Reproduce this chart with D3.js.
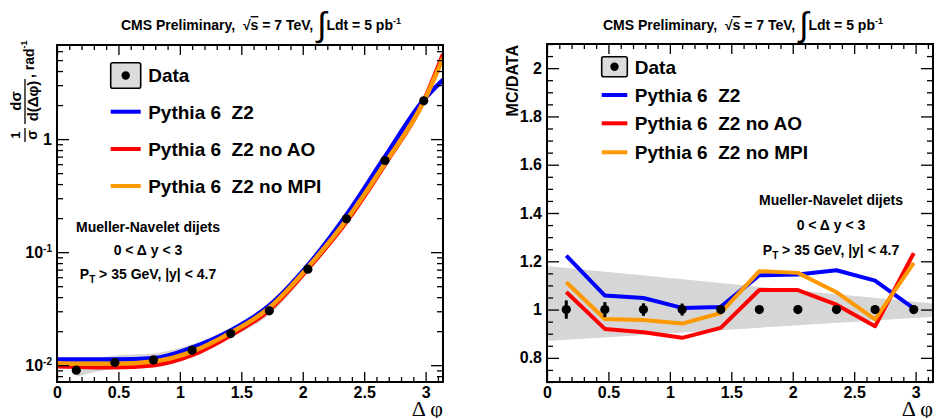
<!DOCTYPE html>
<html>
<head>
<meta charset="utf-8">
<script src="https://cdn.jsdelivr.net/npm/d3@7"></script>
<style>
  body { margin: 0; background: #fff; }
  svg text { font-family: "Liberation Sans", Arial, sans-serif; font-weight: bold; fill: #000; white-space: pre; }
</style>
</head>
<body>
<svg id="chart" width="936" height="418"></svg>
<script>
// bin centres of delta phi (10 bins from 0 to pi)
var binX = [0.157, 0.471, 0.785, 1.100, 1.414, 1.728, 2.042, 2.356, 2.670, 2.985];
// normalised cross section, data
var dataVal = [0.00903, 0.01054, 0.01114, 0.01358, 0.01905, 0.03025, 0.0707, 0.197, 0.647, 2.18];
var dataBandHigh = [0.01058, 0.01219, 0.01271, 0.01529, 0.02115, 0.0331, 0.0763, 0.2096, 0.678, 2.252];
var dataBandLow = [0.00790, 0.00933, 0.00997, 0.01229, 0.01743, 0.02798, 0.0661, 0.1862, 0.6179, 2.104];

// smooth MC curves, left panel
var fitX = [0, 0.157, 0.471, 0.785, 1.100, 1.414, 1.728, 2.042, 2.356, 2.670, 2.985, 3.1416];
var fitZ2 = [0.0112, 0.0112, 0.0112, 0.0115, 0.0143, 0.0203, 0.0337, 0.0765, 0.214, 0.70, 2.23, 3.35];
var fitNoAO = [0.0098, 0.0097, 0.0096, 0.0100, 0.0123, 0.0184, 0.0308, 0.0712, 0.186, 0.60, 2.18, 5.6];
var fitNoMPI = [0.0104, 0.0103, 0.0103, 0.0108, 0.0132, 0.0194, 0.0322, 0.0735, 0.193, 0.613, 2.15, 5.2];

// MC / DATA, right panel
var ratioData = [1, 1, 1, 1, 1, 1, 1, 1, 1, 1];
var ratioErr = [0.038, 0.031, 0.026, 0.025, 0.015, 0.01, 0.008, 0.008, 0.008, 0.008];
var ratioZ2 = [1.223, 1.058, 1.048, 1.007, 1.011, 1.142, 1.145, 1.163, 1.12, 1.005];
var ratioNoAO = [1.073, 0.92, 0.906, 0.883, 0.924, 1.081, 1.081, 1.02, 0.931, 1.234];
var ratioNoMPI = [1.113, 0.961, 0.957, 0.942, 0.986, 1.159, 1.152, 1.072, 0.959, 1.193];
var ratioBandX = [0, 3.1416];
var ratioBandHigh = [1.18, 1.025];
var ratioBandLow = [0.87, 0.97];

var seriesNames = ["Pythia 6  Z2", "Pythia 6  Z2 no AO", "Pythia 6  Z2 no MPI"];
var seriesColors = ["#0000ff", "#ff0000", "#ff9900"];
var xTickValues = [0, 0.5, 1, 1.5, 2, 2.5, 3];
var logTickValues = [0.01, 0.1, 1];
var logTickExp = ["-2", "-1", ""];
var ratioTickValues = [0.8, 1, 1.2, 1.4, 1.6, 1.8, 2];

var svg = d3.select("#chart");

function styleAxis(g) {
    g.select(".domain").remove();
    g.selectAll("line").attr("stroke", "#000").attr("stroke-width", 1.3);
    g.selectAll("text").attr("font-size", "16px").attr("font-family", "Liberation Sans, Arial, sans-serif")
        .attr("font-weight", "bold").attr("fill", "#000");
}

function frameAxes(x, y, yMinor, box, yFormat) {
    var xMinor = d3.range(0, 3.15, 0.1).filter(function(v) {
        return Math.abs(v * 2 - Math.round(v * 2)) > 0.01;
    });
    // bottom
    svg.append("g").attr("transform", "translate(0," + box.bottom + ")")
        .call(d3.axisBottom(x).tickValues(xTickValues).tickSize(-10).tickPadding(5).tickFormat(d3.format("")))
        .call(styleAxis);
    svg.append("g").attr("transform", "translate(0," + box.bottom + ")")
        .call(d3.axisBottom(x).tickValues(xMinor).tickSize(-5).tickFormat(""))
        .call(styleAxis);
    // top
    svg.append("g").attr("transform", "translate(0," + box.top + ")")
        .call(d3.axisTop(x).tickValues(xTickValues).tickSize(-10).tickFormat(""))
        .call(styleAxis);
    svg.append("g").attr("transform", "translate(0," + box.top + ")")
        .call(d3.axisTop(x).tickValues(xMinor).tickSize(-5).tickFormat(""))
        .call(styleAxis);
    // left
    var yl = svg.append("g").attr("transform", "translate(" + box.left + ",0)")
        .call(d3.axisLeft(y).tickValues(y.majors).tickSize(-12).tickPadding(5).tickFormat(yFormat))
        .call(styleAxis);
    svg.append("g").attr("transform", "translate(" + box.left + ",0)")
        .call(d3.axisLeft(y).tickValues(yMinor).tickSize(-6).tickFormat(""))
        .call(styleAxis);
    // right
    svg.append("g").attr("transform", "translate(" + box.right + ",0)")
        .call(d3.axisRight(y).tickValues(y.majors).tickSize(-12).tickFormat(""))
        .call(styleAxis);
    svg.append("g").attr("transform", "translate(" + box.right + ",0)")
        .call(d3.axisRight(y).tickValues(yMinor).tickSize(-6).tickFormat(""))
        .call(styleAxis);
    svg.append("rect")
        .attr("x", box.left).attr("y", box.top)
        .attr("width", box.right - box.left).attr("height", box.bottom - box.top)
        .attr("fill", "none").attr("stroke", "#000").attr("stroke-width", 2);
    // delta phi title
    svg.append("text").attr("x", box.right).attr("y", 416).attr("text-anchor", "end")
        .style("font-family", "Liberation Serif, Times, serif").style("font-weight", "normal")
        .style("font-size", "22px")
        .text("\u0394 \u03c6");
    return yl;
}

function title(cx) {
    var t = svg.append("text").attr("x", cx).attr("y", 30).attr("text-anchor", "middle")
        .style("font-size", "14px");
    t.append("tspan").text("CMS Preliminary,  \u221a");
    t.append("tspan").text("s").style("text-decoration", "overline");
    t.append("tspan").text(" = 7 TeV, ");
    t.append("tspan").text("\u222b").style("font-size", "34px").style("font-weight", "normal")
        .attr("dy", 6);
    t.append("tspan").text("Ldt = 5 pb").attr("dy", -6);
    t.append("tspan").text("-1").style("font-size", "9px").attr("dy", -6);
}

function legend(x0, yRows, boxW, boxH) {
    var g = svg.append("g");
    g.append("rect").attr("x", x0).attr("y", yRows[0] - boxH / 2).attr("width", boxW).attr("height", boxH)
        .attr("rx", 2).attr("fill", "#dcdcdc").attr("stroke", "#000").attr("stroke-width", 1.6);
    g.append("circle").attr("cx", x0 + boxW / 2).attr("cy", yRows[0]).attr("r", 4.2).attr("fill", "#000");
    g.append("text").attr("x", x0 + boxW + 7.5).attr("y", yRows[0]).attr("dy", "0.36em")
        .style("font-size", "19px").text("Data");
    seriesNames.forEach(function(name, i) {
        g.append("line").attr("x1", x0).attr("x2", x0 + boxW)
            .attr("y1", yRows[i + 1]).attr("y2", yRows[i + 1])
            .attr("stroke", seriesColors[i]).attr("stroke-width", 4);
        g.append("text").attr("x", x0 + boxW + 7.5).attr("y", yRows[i + 1]).attr("dy", "0.36em")
            .style("font-size", "19px").text(name);
    });
}

function cuts(cx, ys) {
    svg.append("text").attr("x", cx).attr("y", ys[0]).attr("dy", "0.36em").attr("text-anchor", "middle")
        .style("font-size", "14px").text("Mueller-Navelet dijets");
    svg.append("text").attr("x", cx).attr("y", ys[1]).attr("dy", "0.36em").attr("text-anchor", "middle")
        .style("font-size", "14px").text("0 < \u0394 y < 3");
    var t = svg.append("text").attr("x", cx).attr("y", ys[2]).attr("dy", "0.36em").attr("text-anchor", "middle")
        .style("font-size", "14px");
    t.append("tspan").text("P");
    t.append("tspan").text("T").style("font-size", "10px").attr("dy", 4);
    t.append("tspan").text(" > 35 GeV, |y| < 4.7").attr("dy", -4);
}

// ---------------- left panel ----------------
var boxL = {left: 57, right: 443, top: 45, bottom: 382};
var xL = d3.scaleLinear().domain([0, Math.PI]).range([boxL.left, boxL.right]);
var yL = d3.scaleLog().domain([0.0071, 6.8]).range([boxL.bottom, boxL.top]);
yL.majors = logTickValues;
var yLMinor = yL.ticks().filter(function(v) { return logTickValues.indexOf(v) < 0; });

svg.append("clipPath").attr("id", "clipL").append("rect")
    .attr("x", boxL.left).attr("y", boxL.top).attr("width", boxL.right - boxL.left).attr("height", boxL.bottom - boxL.top);
var plotL = svg.append("g").attr("clip-path", "url(#clipL)");

plotL.append("path")
    .datum(binX.map(function(x, i) { return [x, dataBandLow[i], dataBandHigh[i]]; }))
    .attr("fill", "#d6d6d6")
    .attr("d", d3.area().curve(d3.curveMonotoneX)
        .x(function(d) { return xL(d[0]); })
        .y0(function(d) { return yL(d[1]); })
        .y1(function(d) { return yL(d[2]); }));

var fits = [fitZ2, fitNoAO, fitNoMPI];
var fitLine = d3.line().curve(d3.curveMonotoneX)
    .x(function(d) { return xL(d[0]); })
    .y(function(d) { return yL(d[1]); });
fits.forEach(function(f, i) {
    plotL.append("path")
        .datum(fitX.map(function(x, j) { return [x, f[j]]; }))
        .attr("fill", "none").attr("stroke", seriesColors[i]).attr("stroke-width", 4.5)
        .attr("d", fitLine);
});
plotL.selectAll(".dotL").data(dataVal).enter().append("circle")
    .attr("cx", function(d, i) { return xL(binX[i]); })
    .attr("cy", function(d) { return yL(d); })
    .attr("r", 4.6).attr("fill", "#000");

var ylAxis = frameAxes(xL, yL, yLMinor, boxL, function(d, i) { return ""; });
ylAxis.selectAll(".tick text").each(function(d, i) {
    var t = d3.select(this);
    var k = logTickValues.indexOf(d);
    if (logTickExp[k] === "") {
        t.text("1");
    } else {
        t.append("tspan").text("10");
        t.append("tspan").text(logTickExp[k]).style("font-size", "10px").attr("dy", -6);
    }
});

// y axis title, left
var ylab = svg.append("g").attr("transform", "translate(25,143) rotate(-90)");
ylab.append("text").attr("x", 8).attr("y", -5).attr("text-anchor", "middle").style("font-size", "13px").text("1");
ylab.append("line").attr("x1", 1).attr("x2", 15).attr("y1", 0).attr("y2", 0).attr("stroke", "#000").attr("stroke-width", 1.3);
ylab.append("text").attr("x", 8).attr("y", 12).attr("text-anchor", "middle").style("font-size", "14px").text("\u03c3");
ylab.append("text").attr("x", 42).attr("y", -4).attr("text-anchor", "middle").style("font-size", "15px").text("d\u03c3");
ylab.append("line").attr("x1", 19).attr("x2", 64).attr("y1", 0).attr("y2", 0).attr("stroke", "#000").attr("stroke-width", 1.3);
ylab.append("text").attr("x", 42).attr("y", 13).attr("text-anchor", "middle").style("font-size", "15px").text("d(\u0394\u03c6)");
var rad = ylab.append("text").attr("x", 65).attr("y", 9).style("font-size", "14px");
rad.append("tspan").text(", rad");
rad.append("tspan").text("-1").style("font-size", "9px").attr("dy", -7);

title(261);
legend(110.7, [75.5, 111.7, 149, 186], 30, 25.6);
cuts(148, [227, 250, 274]);

// ---------------- right panel ----------------
var boxR = {left: 547, right: 933, top: 44, bottom: 382};
var xR = d3.scaleLinear().domain([0, Math.PI]).range([boxR.left, boxR.right]);
var yR = d3.scaleLinear().domain([0.7, 2.1]).range([boxR.bottom, boxR.top]);
yR.majors = ratioTickValues;
var yRMinor = d3.range(0.7, 2.1001, 0.05).filter(function(v) {
    return Math.abs(v * 5 - Math.round(v * 5)) > 0.01;
});

svg.append("clipPath").attr("id", "clipR").append("rect")
    .attr("x", boxR.left).attr("y", boxR.top).attr("width", boxR.right - boxR.left).attr("height", boxR.bottom - boxR.top);
var plotR = svg.append("g").attr("clip-path", "url(#clipR)");

plotR.append("path")
    .datum(ratioBandX.map(function(x, i) { return [x, ratioBandLow[i], ratioBandHigh[i]]; }))
    .attr("fill", "#d6d6d6")
    .attr("d", d3.area()
        .x(function(d) { return xR(d[0]); })
        .y0(function(d) { return yR(d[1]); })
        .y1(function(d) { return yR(d[2]); }));

var ratios = [ratioZ2, ratioNoAO, ratioNoMPI];
var ratioLine = d3.line()
    .x(function(d) { return xR(d[0]); })
    .y(function(d) { return yR(d[1]); });
ratios.forEach(function(r, i) {
    plotR.append("path")
        .datum(binX.map(function(x, j) { return [x, r[j]]; }))
        .attr("fill", "none").attr("stroke", seriesColors[i]).attr("stroke-width", 4)
        .attr("stroke-linejoin", "round")
        .attr("d", ratioLine);
});
plotR.selectAll(".errR").data(ratioData).enter().append("line")
    .attr("x1", function(d, i) { return xR(binX[i]); })
    .attr("x2", function(d, i) { return xR(binX[i]); })
    .attr("y1", function(d, i) { return yR(d - ratioErr[i]); })
    .attr("y2", function(d, i) { return yR(d + ratioErr[i]); })
    .attr("stroke", "#000").attr("stroke-width", 3);
plotR.selectAll(".dotR").data(ratioData).enter().append("circle")
    .attr("cx", function(d, i) { return xR(binX[i]); })
    .attr("cy", function(d) { return yR(d); })
    .attr("r", 4.6).attr("fill", "#000");

frameAxes(xR, yR, yRMinor, boxR, d3.format(""));

svg.append("g").attr("transform", "translate(518,45) rotate(-90)")
    .append("text").attr("text-anchor", "end").style("font-size", "16px").text("MC/DATA");

title(743);
legend(601.7, [66.7, 95, 123.3, 152.3], 25.6, 20);
cuts(831, [200, 225, 250]);
</script>
</body>
</html>
